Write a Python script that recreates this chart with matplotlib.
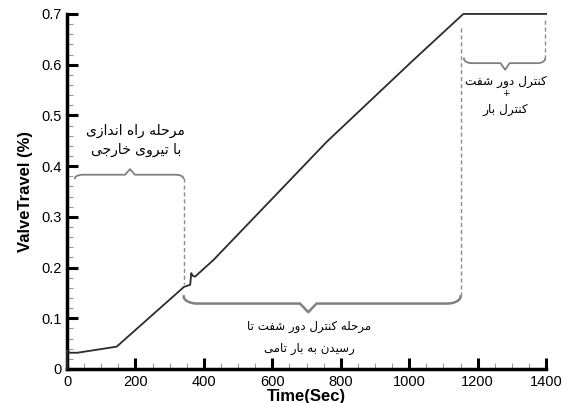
import numpy as np
import matplotlib
matplotlib.use('Agg')
import matplotlib.pyplot as plt
from matplotlib.ticker import MultipleLocator, FuncFormatter

# valve travel curve
time = [0, 0, 8, 30, 145, 342, 360, 363, 367, 374, 428, 600, 759, 1012, 1158, 1400]
travel = [0, 0.037, 0.032, 0.032, 0.044, 0.162, 0.166, 0.189, 0.184, 0.182,
          0.215, 0.336, 0.448, 0.609, 0.7, 0.7]

# phase labels (persian)
label_start = ['مرحله راه اندازی', 'با تیروی خارجی']
label_speed = ['مرحله کنترل دور شفت تا', 'رسیدن به بار تامی']
label_load = ['کنترل دور شفت', '+', 'کنترل بار']

x_ticks = [0, 200, 400, 600, 800, 1000, 1200, 1400]
y_ticks = [0, 0.1, 0.2, 0.3, 0.4, 0.5, 0.6, 0.7]

# presentation forms: isolated, final, initial, medial
FORMS = {
    'ا': ('\ufe8d', '\ufe8e', None, None),
    'ب': ('\ufe8f', '\ufe90', '\ufe91', '\ufe92'),
    'ت': ('\ufe95', '\ufe96', '\ufe97', '\ufe98'),
    'ج': ('\ufe9d', '\ufe9e', '\ufe9f', '\ufea0'),
    'ح': ('\ufea1', '\ufea2', '\ufea3', '\ufea4'),
    'خ': ('\ufea5', '\ufea6', '\ufea7', '\ufea8'),
    'د': ('\ufea9', '\ufeaa', None, None),
    'ر': ('\ufead', '\ufeae', None, None),
    'ز': ('\ufeaf', '\ufeb0', None, None),
    'س': ('\ufeb1', '\ufeb2', '\ufeb3', '\ufeb4'),
    'ش': ('\ufeb5', '\ufeb6', '\ufeb7', '\ufeb8'),
    'ف': ('\ufed1', '\ufed2', '\ufed3', '\ufed4'),
    'ل': ('\ufedd', '\ufede', '\ufedf', '\ufee0'),
    'م': ('\ufee1', '\ufee2', '\ufee3', '\ufee4'),
    'ن': ('\ufee5', '\ufee6', '\ufee7', '\ufee8'),
    'ه': ('\ufee9', '\ufeea', '\ufeeb', '\ufeec'),
    'و': ('\ufeed', '\ufeee', None, None),
    'ک': ('\ufb8e', '\ufb8f', '\ufb90', '\ufb91'),
    'ی': ('\ufbfc', '\ufbfd', '\ufbfe', '\ufbff'),
}


def shape(text):
    # join letters and flip for left-to-right drawing
    out = []
    for i, c in enumerate(text):
        if c not in FORMS:
            out.append(c)
            continue
        iso, fin, ini, med = FORMS[c]
        prev = text[i - 1] if i > 0 else ''
        nxt = text[i + 1] if i + 1 < len(text) else ''
        jp = prev in FORMS and FORMS[prev][2] is not None
        jn = ini is not None and nxt in FORMS
        if jp and jn:
            out.append(med)
        elif jp:
            out.append(fin)
        elif jn:
            out.append(ini)
        else:
            out.append(iso)
    return ''.join(reversed(out))


def brace(ax, x0, x1, xm, y_end, y_line, y_tip, curl, **kw):
    th = np.linspace(0, np.pi / 2, 12)
    lx = x0 + curl * (1 - np.cos(th))
    ly = y_line + (y_end - y_line) * (1 - np.sin(th))
    rx = x1 - curl * (1 - np.cos(th[::-1]))
    ry = y_line + (y_end - y_line) * (1 - np.sin(th[::-1]))
    tw = curl * 0.6
    xs = np.concatenate([lx, [xm - tw, xm, xm + tw], rx])
    ys = np.concatenate([ly, [y_line, y_tip, y_line], ry])
    ax.plot(xs, ys, **kw)


fig = plt.figure(figsize=(5.69, 4.03), dpi=100)
ax = fig.add_axes([0.1178, 0.0844, 0.842, 0.881])

ax.plot(time, travel, color='#2b2b2b', lw=1.3, clip_on=False, zorder=3)

gray = dict(color='#808080', lw=1.3, clip_on=False)
dash = dict(color='#8c8c8c', lw=1.0, ls=(0, (3, 2)), clip_on=False)

brace(ax, 23, 340, 184, 0.376, 0.383, 0.394, 24, **gray)
ax.plot([342, 342], [0.376, 0.168], **dash)

brace(ax, 341, 1150, 705, 0.143, 0.129, 0.112, 40,
      color='#808080', lw=1.8, clip_on=False)
ax.plot([1151, 1151], [0.143, 0.675], **dash)

brace(ax, 1160, 1397, 1280, 0.612, 0.603, 0.59, 22, **gray)
ax.plot([1397, 1397], [0.612, 0.692], **dash)

tfont = dict(family='DejaVu Sans', ha='center', va='center')
ax.text(201, 0.470, shape(label_start[0]), fontsize=10, **tfont)
ax.text(201, 0.431, shape(label_start[1]), fontsize=10, **tfont)
ax.text(708, 0.083, shape(label_speed[0]), fontsize=8.5, **tfont)
ax.text(708, 0.041, shape(label_speed[1]), fontsize=8.5, **tfont)
ax.text(1282, 0.567, shape(label_load[0]), fontsize=8.7, **tfont)
ax.text(1282, 0.543, label_load[1], fontsize=6.5, **tfont)
ax.text(1282, 0.511, shape(label_load[2]), fontsize=8.7, **tfont)

ax.set_xlim(0, 1400)
ax.set_ylim(0, 0.7)
ax.set_xticks(x_ticks)
ax.set_yticks(y_ticks)
ax.xaxis.set_minor_locator(MultipleLocator(50))
ax.yaxis.set_minor_locator(MultipleLocator(0.02))
ax.yaxis.set_major_formatter(FuncFormatter(lambda v, p: '0' if v == 0 else '%.1f' % v))

for s in ['top', 'right']:
    ax.spines[s].set_visible(False)
for s in ['left', 'bottom']:
    ax.spines[s].set_linewidth(2.5)

ax.tick_params(which='major', direction='in', length=8, width=2.2,
               labelsize=10.5, pad=4)
ax.tick_params(which='minor', direction='in', length=4, width=0.8,
               color='#999999')
for lab in ax.get_xticklabels() + ax.get_yticklabels():
    lab.set_family('Liberation Sans')

ax.set_xlabel('Time(Sec)', fontsize=12, fontweight='bold',
              family='Liberation Sans', labelpad=0.5)
ax.set_ylabel('ValveTravel (%)', fontsize=12, fontweight='bold',
              family='Liberation Sans', labelpad=6)

fig.savefig('out.png', dpi=100)
